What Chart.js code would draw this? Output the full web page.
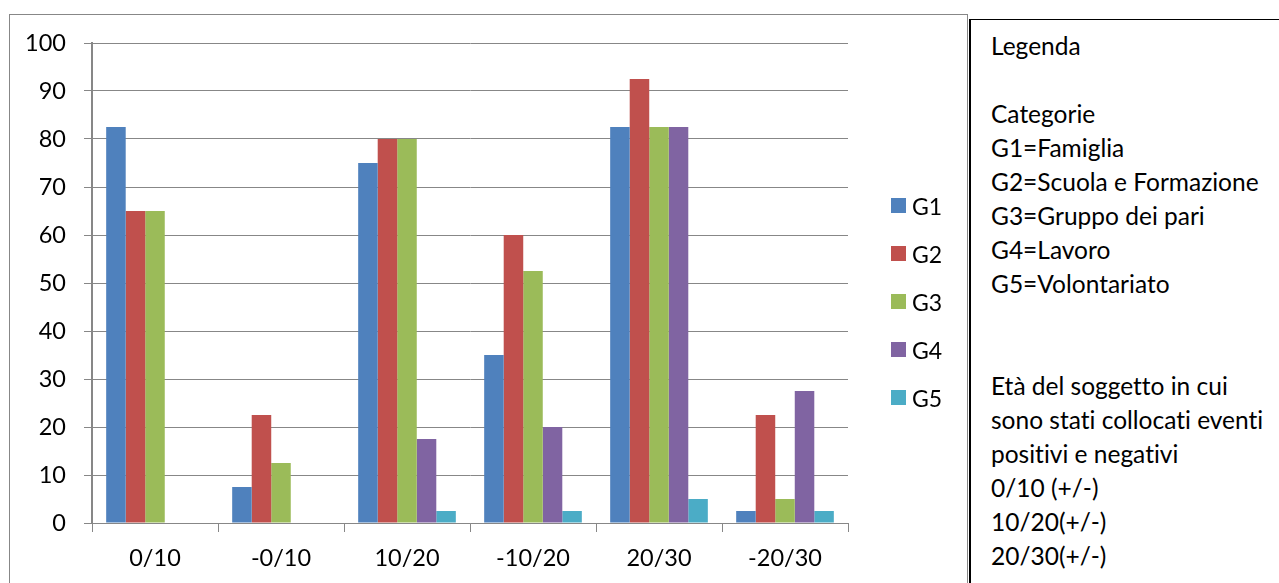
<!DOCTYPE html>
<html lang="it">
<head>
<meta charset="utf-8">
<title>Eventi per fascia d'età</title>
<script src="https://cdn.jsdelivr.net/npm/chart.js@4.4.1/dist/chart.umd.min.js"></script>
<style>
  html, body { margin: 0; padding: 0; background: #fff; }
  body { width: 1279px; height: 583px; position: relative; overflow: hidden; font-family: Lato, "Noto Sans", sans-serif; color: #000; font-variant-ligatures: none; }
  #frame { position: absolute; left: 9px; top: 14px; width: 959px; height: 600px; border: 1px solid #878787; box-sizing: border-box; }
  #chartWrap { position: absolute; left: 0; top: 0; width: 969px; height: 583px; }
  #legend { position: absolute; left: 891px; top: 198px; margin: 0; padding: 0; list-style: none; font-size: 23px; }
  #legend li { position: absolute; left: 0; height: 16px; white-space: nowrap; }
  #legend .sw { position: absolute; left: 0; top: 0; width: 15px; height: 15px; }
  #legend .tx { position: absolute; left: 21px; top: -6px; line-height: 28px; }
  #notes { position: absolute; left: 969px; top: 19px; width: 330px; height: 600px; border-left: 2px solid #000; border-top: 1px solid #000; box-sizing: border-box; }
  #notesText { position: absolute; left: 991px; top: 29px; font-size: 24.5px; line-height: 34px; white-space: pre; margin: 0; font-family: Lato, "Noto Sans", sans-serif; font-variant-ligatures: none; font-feature-settings: "liga" 0, "clig" 0; }
</style>
</head>
<body>
<div id="frame"></div>
<div id="chartWrap"><canvas id="chart" width="969" height="583"></canvas></div>
<ul id="legend"></ul>
<div id="notes"></div>
<pre id="notesText"></pre>
<script>
// Fasce d'età (positive / negative)
const categories = ['0/10', '-0/10', '10/20', '-10/20', '20/30', '-20/30'];

// Percentuali per categoria di contesto
const g1 = [82.5, 7.5, 75, 35, 82.5, 2.5];
const g2 = [65, 22.5, 80, 60, 92.5, 22.5];
const g3 = [65, 12.5, 80, 52.5, 82.5, 5];
const g4 = [0, 0, 17.5, 20, 82.5, 27.5];
const g5 = [0, 0, 2.5, 2.5, 5, 2.5];

const seriesNames = ['G1', 'G2', 'G3', 'G4', 'G5'];
const seriesValues = [g1, g2, g3, g4, g5];
const fillColors = ['#4F81BD', '#C0504D', '#9BBB59', '#8064A2', '#4BACC6'];

const yTicks = [0, 10, 20, 30, 40, 50, 60, 70, 80, 90, 100];

const notesLines = [
  'Legenda',
  '',
  'Categorie',
  'G1=Famiglia',
  'G2=Scuola e Formazione',
  'G3=Gruppo dei pari',
  'G4=Lavoro',
  'G5=Volontariato',
  '',
  '',
  'Età del soggetto in cui',
  'sono stati collocati eventi',
  'positivi e negativi',
  '0/10 (+/-)',
  '10/20(+/-)',
  '20/30(+/-)'
];

document.getElementById('notesText').textContent = notesLines.join('\n');

// Legend on the right of the plot
const legendEl = document.getElementById('legend');
seriesNames.forEach((name, i) => {
  const li = document.createElement('li');
  li.style.top = (i * 48) + 'px';
  const sw = document.createElement('span');
  sw.className = 'sw';
  sw.style.background = fillColors[i];
  const tx = document.createElement('span');
  tx.className = 'tx';
  tx.textContent = name;
  li.appendChild(sw);
  li.appendChild(tx);
  legendEl.appendChild(li);
});

const axisGray = '#878787';
const tickFont = { family: 'Lato, "Noto Sans", sans-serif', size: 23.5 };

new Chart(document.getElementById('chart'), {
  type: 'bar',
  data: {
    labels: categories,
    datasets: seriesNames.map((name, i) => ({
      label: name,
      data: seriesValues[i],
      backgroundColor: fillColors[i],
      borderWidth: 0,
      categoryPercentage: 0.775,
      barPercentage: 1
    }))
  },
  options: {
    responsive: false,
    animation: false,
    events: [],
    layout: { padding: { left: 0, top: 43, right: 121, bottom: 0 } },
    plugins: {
      legend: { display: false },
      tooltip: { enabled: false }
    },
    scales: {
      x: {
        grid: {
          offset: true,
          drawOnChartArea: false,
          drawTicks: true,
          tickLength: 9,
          color: axisGray,
          lineWidth: 1
        },
        border: { display: true, color: axisGray, width: 1 },
        ticks: { color: '#000', font: tickFont, padding: 12, maxRotation: 0, autoSkip: false },
        afterFit(scale) { scale.height = 60; }
      },
      y: {
        min: 0,
        max: 100,
        afterBuildTicks(scale) { scale.ticks = yTicks.map(v => ({ value: v })); },
        grid: {
          color: axisGray,
          lineWidth: 1,
          drawTicks: true,
          tickLength: 8
        },
        border: { display: true, color: axisGray, width: 2 },
        ticks: { color: '#000', font: tickFont, padding: 18 },
        afterFit(scale) { scale.width = 92; }
      }
    }
  }
});
</script>
</body>
</html>
